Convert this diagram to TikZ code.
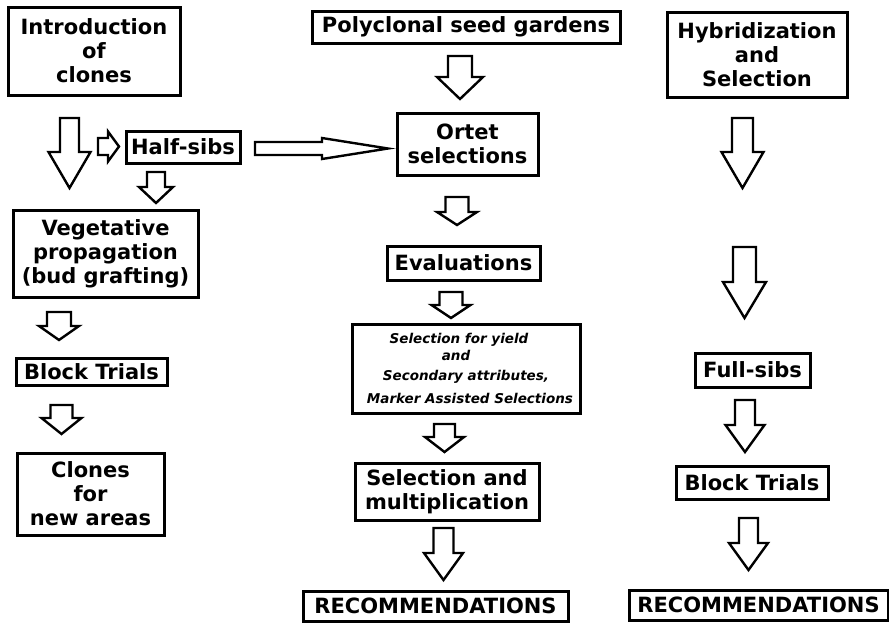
\documentclass[tikz,border=0pt]{standalone}
\usepackage{fontspec}
\setmainfont{DejaVu Sans}
\usetikzlibrary{positioning, calc}
\tikzset{
  br box/.style={draw=black, fill=white, line width=3pt, align=center,
    inner sep=0pt, font=\bfseries\fontsize{21}{24}\selectfont},
  br note/.style={br box, font=\bfseries\itshape\fontsize{13.5}{18}\selectfont},
  br blk/.style={draw=black, fill=white, line width=2.4pt, line join=miter},
}
% hollow block arrows: x, top, neck, tip, shaft half width, head half width
\newcommand{\blkdown}[6]{%
  \draw[br blk] ({#1-#5},#2) -- ({#1+#5},#2) -- ({#1+#5},#3) -- ({#1+#6},#3)
    -- (#1,#4) -- ({#1-#6},#3) -- ({#1-#5},#3) -- cycle;}
% y, left, neck, tip, shaft half width, head half width
\newcommand{\blkright}[6]{%
  \draw[br blk] (#2,{#1-#5}) -- (#3,{#1-#5}) -- (#3,{#1-#6}) -- (#4,#1)
    -- (#3,{#1+#6}) -- (#3,{#1+#5}) -- (#2,{#1+#5}) -- cycle;}

\begin{document}
\begin{tikzpicture}[x=1pt, y=-1pt]
 \fill[white] (0,0) rectangle (889,622);
 \useasboundingbox (0,0) rectangle (889,622);
 % left column
 \node[br box, minimum width=172pt, minimum height=88pt] (intro) at (94,51)
   {Introduction\\of\\clones};
 \node[br box, minimum width=114pt, minimum height=32pt] (half) at (183,147)
   {Half-sibs};
 \node[br box, minimum width=185pt, minimum height=87pt] (veg) at (105.5,253.5)
   {Vegetative\\propagation\\(bud grafting)};
 \node[br box, minimum width=151pt, minimum height=27pt] (blockl) at (91.5,371.5)
   {Block Trials};
 \node[br box, minimum width=147pt, minimum height=82pt] (clones) at (90.5,494)
   {Clones\\for\\new areas};
 % middle column
 \node[br box, minimum width=308pt, minimum height=32pt] (poly) at (466,27)
   {Polyclonal seed gardens};
 \node[br box, minimum width=141pt, minimum height=62pt] (ortet) at (467.5,144)
   {Ortet\\selections};
 \node[br box, minimum width=153pt, minimum height=34pt] (eval) at (463.5,263)
   {Evaluations};
 \node[br note, minimum width=228pt, minimum height=89pt] (yield) at (466,368.5)
   {\hspace*{-14pt}Selection for yield\\[-1pt]\hspace*{-20pt}and\\[2pt]
    Secondary attributes,\\[5pt]\hspace*{8pt}Marker Assisted Selections};
 \node[br box, minimum width=184pt, minimum height=57pt] (mult) at (447,491.5)
   {Selection and\\multiplication};
 \node[br box, minimum width=265pt, minimum height=30pt] (recm) at (435.5,606)
   {RECOMMENDATIONS};
 % right column
 \node[br box, minimum width=180pt, minimum height=85pt] (hyb) at (757,54.5)
   {Hybridization\\and\\Selection};
 \node[br box, minimum width=115pt, minimum height=34pt] (full) at (752.5,370)
   {Full-sibs};
 \node[br box, minimum width=152pt, minimum height=33pt] (blockr) at (752,482.5)
   {Block Trials};
 \node[br box, minimum width=259pt, minimum height=30pt] (recr) at (758.5,605)
   {RECOMMENDATIONS};
 % block arrows
 \blkdown{69.5}{118}{152}{188}{9.5}{21}
 \blkdown{156}{172}{187}{203}{9}{17}
 \blkdown{59}{312}{326}{340}{12}{20}
 \blkdown{61.5}{405}{418}{434}{11}{20}
 \blkdown{460}{56}{77}{99}{12}{23}
 \blkdown{457}{197}{212}{225}{11.5}{20}
 \blkdown{451}{292}{305}{318}{11.5}{19.5}
 \blkdown{444.5}{424}{437}{452}{10.5}{19.5}
 \blkdown{443.5}{528}{553}{580}{10}{19.5}
 \blkdown{742.5}{118}{152}{188}{10.5}{21}
 \blkdown{744.5}{247}{282}{318}{11.5}{21.5}
 \blkdown{745}{400}{425}{452}{10}{19.5}
 \blkdown{748.5}{518}{543}{570}{9.5}{19.5}
 \blkright{146.5}{98}{108}{119}{8.5}{15}
 \blkright{148.5}{255}{322}{388}{6.5}{10.5}
\end{tikzpicture}
\end{document}
